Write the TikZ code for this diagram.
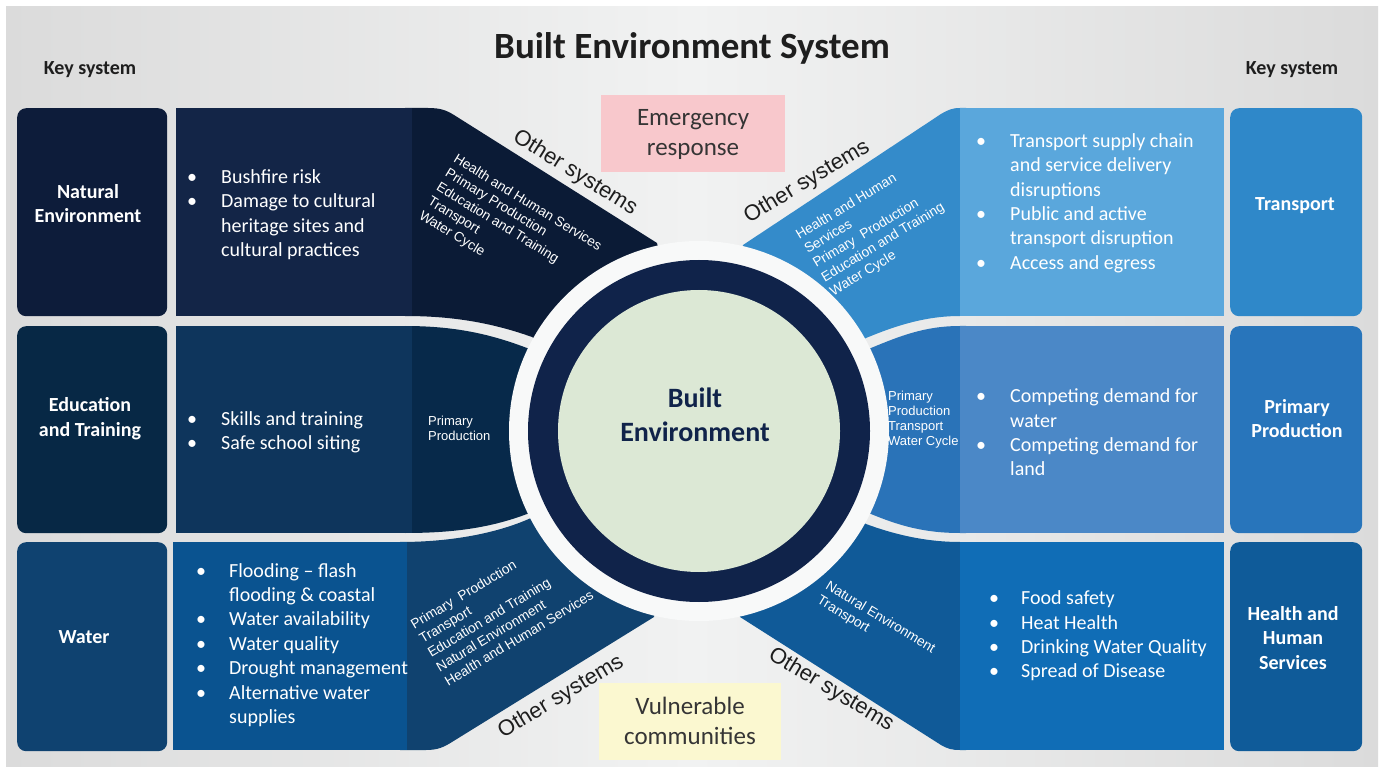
\documentclass[tikz,border=0pt]{standalone}
\usepackage{fontspec}
\setmainfont{Carlito}
\newfontfamily\arialf{Liberation Sans}
\definecolor{bgA}{HTML}{DBDBDB}
\definecolor{bgB}{HTML}{F1F2F2}
\definecolor{gapc}{HTML}{F8F9F9}
\definecolor{cNEk}{HTML}{0D1C3A}
\definecolor{cNEc}{HTML}{132547}
\definecolor{cNEw}{HTML}{0B1B36}
\definecolor{cETk}{HTML}{072845}
\definecolor{cETc}{HTML}{0E355C}
\definecolor{cETw}{HTML}{07294A}
\definecolor{cWAk}{HTML}{0F4270}
\definecolor{cWAc}{HTML}{0A5390}
\definecolor{cWAw}{HTML}{10426F}
\definecolor{cTRk}{HTML}{2F88C9}
\definecolor{cTRc}{HTML}{5AA7DC}
\definecolor{cTRw}{HTML}{348BCA}
\definecolor{cPPk}{HTML}{2875BB}
\definecolor{cPPc}{HTML}{4B88C7}
\definecolor{cPPw}{HTML}{2A73B8}
\definecolor{cHHk}{HTML}{0F5B99}
\definecolor{cHHc}{HTML}{106DB6}
\definecolor{cHHw}{HTML}{105A98}
\definecolor{ringc}{HTML}{10234A}
\definecolor{innerc}{HTML}{DCE8D5}
\definecolor{pinkc}{HTML}{F8C8CC}
\definecolor{yellc}{HTML}{FBF8D0}
\definecolor{darktxt}{HTML}{1E1E1E}
\newcommand{\bl}[2]{\makebox[#1pt][l]{•}#2}
\newcommand{\cl}[2]{\hspace*{#1pt}#2}
\begin{document}
\begin{tikzpicture}[x=1pt,y=-1pt,
  keybox/.style={rounded corners=9pt, inner sep=0, anchor=north west},
  keylabel/.style={text=white, font=\bfseries\fontsize{20}{24.4}\selectfont, align=center, inner sep=0},
  bodytext/.style={text=white, font=\fontsize{20}{24.4}\selectfont, align=left, anchor=west, inner sep=0},
  wedgetext/.style={text=white, font=\arialf\fontsize{13.7}{16.5}\selectfont, align=left, inner sep=0, anchor=north west},
  midtext/.style={text=white, font=\arialf\fontsize{13}{15}\selectfont, align=left, inner sep=0, anchor=west},
  othersys/.style={text=darktxt, font=\arialf\fontsize{22}{26}\selectfont, inner sep=0},
  notebox/.style={text=darktxt!90, font=\fontsize{25}{30.5}\selectfont, align=center, inner sep=0}]
\useasboundingbox (0,0) rectangle (1385,767);
\fill[white] (0,0) rectangle (1385,767);
\shade[left color=bgA, right color=bgA, middle color=bgB] (6,7) rectangle (1378,767);

% wedges
\fill[cNEw] (405,108) -- (428,108) .. controls (440,108) and (446,110) .. (454,115) -- (657,243) -- (699,431) -- (532,337) .. controls (490,322) and (450,316) .. (405,316) -- cycle;
\fill[cETw] (405,326) .. controls (460,326) and (495,336) .. (527,348) -- (699,431) -- (527,514) .. controls (495,526) and (460,533) .. (405,533) -- cycle;
\fill[cWAw] (400,542) .. controls (455,542) and (500,532) .. (531,518) -- (699,431) -- (654,617) -- (452,742) .. controls (444,747) and (438,750) .. (426,750) -- (400,750) -- cycle;
\fill[cTRw] (743,245) -- (941,114) .. controls (948,110) and (952,108) .. (960,108) -- (966,108) -- (966,316) -- (960,316) .. controls (925,316) and (895,326) .. (866,338) -- (699,431) -- cycle;
\fill[cPPw] (966,326) -- (960,326) .. controls (925,326) and (900,336) .. (871,348) -- (699,431) -- (871,514) .. controls (900,526) and (925,533) .. (960,533) -- (966,533) -- cycle;
\fill[cHHw] (966,542) -- (960,542) .. controls (925,542) and (893,534) .. (866,524) -- (699,431) -- (740,617) -- (941,745) .. controls (948,749) and (952,750) .. (960,750) -- (966,750) -- cycle;

% content boxes
\fill[cNEc] (176,108) rectangle (412,316);
\fill[cETc] (176,326) rectangle (412,533);
\fill[cWAc] (173,542) rectangle (407,750);
\fill[cTRc] (960,108) rectangle (1224,316);
\fill[cPPc] (960,326) rectangle (1224,533);
\fill[cHHc] (960,542) rectangle (1224,750);

% key boxes
\node[keybox, fill=cNEk, minimum width=150, minimum height=208] (kne) at (17,108) {};
\node[keybox, fill=cETk, minimum width=150, minimum height=207] (ket) at (17,326) {};
\node[keybox, fill=cWAk, minimum width=150, minimum height=209] (kwa) at (17,542) {};
\node[keybox, fill=cTRk, minimum width=132, minimum height=208] (ktr) at (1230,108) {};
\node[keybox, fill=cPPk, minimum width=132, minimum height=207] (kpp) at (1230,326) {};
\node[keybox, fill=cHHk, minimum width=132, minimum height=209] (khh) at (1230,542) {};

% central circle
\fill[gapc] (699,431) circle[radius=190];
\node[circle, fill=ringc, minimum size=342, inner sep=0] (ring) at (699,431) {};
\node[circle, fill=innerc, minimum size=282, inner sep=0] (core) at (699,431) {};
\node[text=ringc, font=\bfseries\fontsize{28}{34}\selectfont, align=center, inner sep=0] (corelabel) at (695,414.5) {Built\\Environment};

% title
\node[text=darktxt, font=\bfseries\fontsize{37}{42}\selectfont, inner sep=0] (title) at (692,48) {Built Environment System};
\node[text=darktxt, font=\bfseries\fontsize{20}{23}\selectfont, inner sep=0] (ksl) at (90,70) {Key system};
\node[text=darktxt, font=\bfseries\fontsize{20}{23}\selectfont, inner sep=0] (ksr) at (1292,70) {Key system};

% key labels
\node[keylabel] (lne) at (88,203.5) {Natural\\Environment};
\node[keylabel] (let) at (90,418.5) {Education\\and Training};
\node[keylabel] (lwa) at (84,637.5) {Water};
\node[keylabel] (ltr) at (1295,206) {Transport};
\node[keylabel] (lpp) at (1297,418.5) {Primary\\Production};
\node[keylabel] (lhh) at (1293,638) {Health and\\Human\\Services};

% body texts
\node[bodytext] (bne) at (187,214.5) {\bl{34}{Bushfire risk}\\\bl{34}{Damage to cultural}\\\cl{34}{heritage sites and}\\\cl{34}{cultural practices}};
\node[bodytext] (bet) at (187,432) {\bl{34}{Skills and training}\\\bl{34}{Safe school siting}};
\node[bodytext] (bwa) at (196,645) {\bl{33}{Flooding – flash}\\\cl{33}{flooding \& coastal}\\\bl{33}{Water availability}\\\bl{33}{Water quality}\\\bl{33}{Drought management}\\\bl{33}{Alternative water}\\\cl{33}{supplies}};
\node[bodytext] (btr) at (976,203) {\bl{34}{Transport supply chain}\\\cl{34}{and service delivery}\\\cl{34}{disruptions}\\\bl{34}{Public and active}\\\cl{34}{transport disruption}\\\bl{34}{Access and egress}};
\node[bodytext] (bpp) at (976,432.5) {\bl{34}{Competing demand for}\\\cl{34}{water}\\\bl{34}{Competing demand for}\\\cl{34}{land}};
\node[bodytext] (bhh) at (989,636) {\bl{32}{Food safety}\\\bl{32}{Heat Health}\\\bl{32}{Drinking Water Quality}\\\bl{32}{Spread of Disease}};

% wedge texts
\node[wedgetext, rotate=-31.5] (wne) at (458,153) {Health and Human Services\\Primary Production\\Education and Training\\Transport\\Water Cycle};
\node[wedgetext, rotate=31] (wtr) at (794,231) {Health and Human\\Services\\Primary\ \ Production\\Education and Training\\Water Cycle};
\node[wedgetext, rotate=31] (wwa) at (409,621) {Primary\ \ Production\\Transport\\Education and Training\\Natural Environment\\Health and Human Services};
\node[wedgetext, rotate=-31] (whh) at (830,580) {Natural Environment\\Transport};
\node[midtext] (wet) at (428,428) {Primary\\Production};
\node[midtext] (wpp) at (888,420) {Primary\\Production\\Transport\\Water Cycle};

% other systems
\node[othersys, rotate=-32] (os1) at (575,173) {Other systems};
\node[othersys, rotate=31] (os2) at (807,182) {Other systems};
\node[othersys, rotate=31] (os3) at (561,697) {Other systems};
\node[othersys, rotate=-31] (os4) at (831,690) {Other systems};

% note boxes
\fill[pinkc] (601,95) rectangle (785,172);
\node[notebox] (emer) at (693,134.5) {Emergency\\response};
\fill[yellc] (599,683) rectangle (781,760);
\node[notebox] (vuln) at (690,721) {Vulnerable\\communities};
\end{tikzpicture}
\end{document}
